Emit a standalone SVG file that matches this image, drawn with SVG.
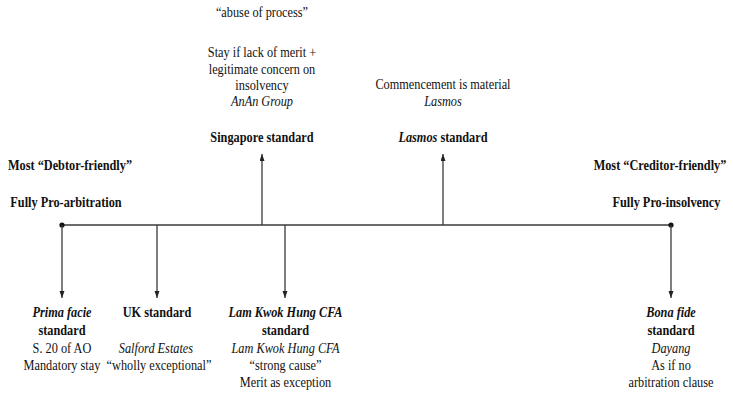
<svg xmlns="http://www.w3.org/2000/svg" width="733" height="393" viewBox="0 0 733 393">
<style>
text{font-family:"Liberation Serif","Times New Roman",serif;font-size:15px;fill:#111;text-anchor:middle}
.b{font-weight:bold}
.i{font-style:italic}
.ln{stroke:#3a3a3a;stroke-width:1.3;fill:none}
</style>
<defs>
<marker id="ah" markerUnits="userSpaceOnUse" markerWidth="8" markerHeight="6" refX="7" refY="2.5" orient="auto">
<path d="M0,0 L7,2.5 L0,5 z" fill="#222"/>
</marker>
</defs>
<rect width="733" height="393" fill="#fff"/>
<g id="connectors">
<line class="ln" x1="62" y1="225" x2="671" y2="225"/>
<circle cx="62" cy="225" r="2.6" fill="#111"/>
<circle cx="671" cy="225" r="2.6" fill="#111"/>
<line class="ln" x1="262" y1="225" x2="262" y2="154" marker-end="url(#ah)"/>
<line class="ln" x1="443" y1="225" x2="443" y2="154" marker-end="url(#ah)"/>
<line class="ln" x1="62" y1="225" x2="62" y2="298" marker-end="url(#ah)"/>
<line class="ln" x1="157" y1="225" x2="157" y2="298" marker-end="url(#ah)"/>
<line class="ln" x1="285" y1="225" x2="285" y2="298" marker-end="url(#ah)"/>
<line class="ln" x1="671" y1="225" x2="671" y2="298" marker-end="url(#ah)"/>
</g>
<g transform="scale(0.82,1)">
<g id="singapore">
<text x="319.5" y="17">“abuse of process”</text>
<text x="319.5" y="57">Stay if lack of merit +</text>
<text x="319.5" y="74">legitimate concern on</text>
<text x="319.5" y="90">insolvency</text>
<text x="319.5" y="106" class="i">AnAn Group</text>
<text x="319.5" y="142" class="b">Singapore standard</text>
</g>
<g id="lasmos">
<text x="540.2" y="89">Commencement is material</text>
<text x="540.2" y="106" class="i">Lasmos</text>
<text x="540.2" y="142" class="b"><tspan class="i">Lasmos</tspan> standard</text>
</g>
<g id="debtor">
<text x="85.4" y="170" class="b">Most “Debtor-friendly”</text>
<text x="80.5" y="207" class="b">Fully Pro-arbitration</text>
</g>
<g id="creditor">
<text x="804.9" y="170" class="b">Most “Creditor-friendly”</text>
<text x="812.8" y="207" class="b">Fully Pro-insolvency</text>
</g>
<g id="primafacie">
<text x="75.6" y="317" class="b i">Prima facie</text>
<text x="75.6" y="335" class="b">standard</text>
<text x="75.6" y="353">S. 20 of AO</text>
<text x="75.6" y="370">Mandatory stay</text>
</g>
<g id="uk">
<text x="191.5" y="317" class="b">UK standard</text>
<text x="190.2" y="353" class="i">Salford Estates</text>
<text x="193.9" y="370">“wholly exceptional”</text>
</g>
<g id="lamkwokhung">
<text x="348.2" y="317" class="b i">Lam Kwok Hung CFA</text>
<text x="348.2" y="335" class="b">standard</text>
<text x="348.2" y="353" class="i">Lam Kwok Hung CFA</text>
<text x="348.2" y="370">“strong cause”</text>
<text x="348.2" y="387">Merit as exception</text>
</g>
<g id="bonafide">
<text x="818.3" y="317" class="b i">Bona fide</text>
<text x="818.3" y="335" class="b">standard</text>
<text x="818.3" y="353" class="i">Dayang</text>
<text x="818.3" y="370">As if no</text>
<text x="818.3" y="387">arbitration clause</text>
</g>
</g>
</svg>
